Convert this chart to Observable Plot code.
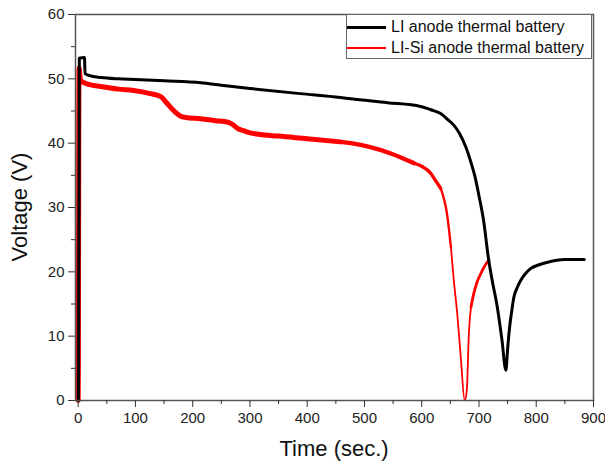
<!DOCTYPE html>
<html>
<head>
<meta charset="utf-8">
<script src="https://cdn.jsdelivr.net/npm/d3@7"></script>
<script src="https://cdn.jsdelivr.net/npm/@observablehq/plot@0.6"></script>
<style>
  html, body { margin: 0; padding: 0; background: white; }
  #wrap { position: relative; width: 605px; height: 461px; overflow: hidden; font-family: Arial, "Liberation Sans", sans-serif; }
  #legend { position: absolute; left: 346px; top: 14px; width: 246px; height: 45px; border: 1px solid #666; background: white; box-sizing: border-box; }
  .row { position: absolute; left: 0; height: 20px; display: flex; align-items: center; font-size: 16px; color: #111; white-space: nowrap; }
  .sw { width: 39px; margin-right: 5px; }
  .title { position: absolute; font-size: 22px; color: #111; white-space: nowrap; line-height: 1; }
</style>
</head>
<body>
<div id="wrap"></div>
<script>
// Series: LI anode thermal battery
const liTime = [0.5, 2, 11, 12, 20, 40, 70, 100, 150, 214, 250, 300, 388, 458, 476, 540, 598, 616, 633, 645, 656, 666, 677, 686, 693, 700, 708, 717, 723, 732, 740, 747, 750, 753, 757, 761, 767, 773, 781, 790, 805, 820, 849, 884];
const liVolt = [0, 53.2, 53.3, 50.8, 50.5, 50.2, 50.0, 49.9, 49.7, 49.4, 49.0, 48.5, 47.7, 47.1, 46.9, 46.3, 45.7, 45.2, 44.6, 43.7, 42.8, 41.5, 39.4, 37.0, 34.8, 31.8, 28.0, 21.8, 18.7, 14.5, 9.5, 4.7, 8.0, 11.0, 13.8, 16.1, 17.6, 18.7, 19.7, 20.5, 21.1, 21.5, 21.9, 21.9];

// Series: LI-Si anode thermal battery
const lisiTime = [0, 0.3, 1, 1.5, 4, 10, 20, 39, 70, 97, 126, 145, 153, 162, 170, 179, 188, 214, 240, 260, 268, 280, 290, 300, 350, 400, 458, 476, 546, 586, 600, 616, 621, 633, 645, 651, 656, 662, 668, 675, 678.6, 682.6, 686, 690, 697, 703, 710, 717.6];
const lisiVolt = [0, 4.5, 41, 51.7, 49.8, 49.4, 49.1, 48.8, 48.4, 48.2, 47.7, 47.2, 46.4, 45.5, 44.8, 44.2, 44.0, 43.8, 43.5, 43.3, 43.0, 42.2, 41.9, 41.6, 41.1, 40.7, 40.2, 40.0, 38.4, 36.9, 36.4, 35.3, 34.6, 33.0, 28.5, 23.8, 18.7, 13.5, 7.0, 0, 1.5, 10.9, 14.5, 16.3, 18.5, 19.7, 20.9, 21.9];

const seriesNames = ["LI anode thermal battery", "LI-Si anode thermal battery"];
const xMajor = [0, 100, 200, 300, 400, 500, 600, 700, 800, 900];
const xMinor = [50, 150, 250, 350, 450, 550, 650, 750, 850];
const yMajor = [0, 10, 20, 30, 40, 50, 60];
const yMinor = [5, 15, 25, 35, 45, 55];
const xTitle = "Time (sec.)";
const yTitle = "Voltage (V)";

const li = liTime.map((t, i) => ({t, v: liVolt[i]}));
const lisi = lisiTime.map((t, i) => ({t, v: lisiVolt[i]}));

// red trace gets thinner as the data become sparse (steep section)
const redPieces = [
  {from: 0, to: 460, w: 5},
  {from: 458, to: 586, w: 4.4},
  {from: 586, to: 633, w: 3.4},
  {from: 633, to: 651, w: 2.4},
  {from: 651, to: 686, w: 1.8},
  {from: 686, to: 720, w: 2.8}
];

const font = 'Arial, "Liberation Sans", sans-serif';
const chart = Plot.plot({
  width: 605,
  height: 461,
  marginLeft: 75,
  marginRight: 12,
  marginTop: 14,
  marginBottom: 61,
  x: {domain: [-4.7, 900]},
  y: {domain: [0, 60]},
  style: {fontFamily: font, fontSize: "15px", color: "#222", background: "white", overflow: "visible"},
  marks: [
    ...redPieces.map(p => Plot.line(lisi.filter(d => d.t >= p.from && d.t <= p.to), {x: "t", y: "v", stroke: "#ff0000", strokeWidth: p.w, strokeLinejoin: "round", strokeLinecap: "round", curve: "monotone-x"})),
    Plot.line(li, {x: "t", y: "v", stroke: "black", strokeWidth: 3, strokeLinejoin: "round", curve: "monotone-x"}),
    Plot.frame({stroke: "#555", strokeWidth: 1.5}),
    Plot.axisX({ticks: xMajor, tickSize: 7, tickPadding: 5, fontSize: 15, label: null, stroke: "#333"}),
    Plot.axisX({ticks: xMinor, tickSize: 4, tickFormat: () => "", label: null, stroke: "#333"}),
    Plot.axisY({ticks: yMajor, tickSize: 7, tickPadding: 4, fontSize: 15, label: null, stroke: "#333"}),
    Plot.axisY({ticks: yMinor, tickSize: 4, tickFormat: () => "", label: null, stroke: "#333"})
  ]
});

const wrap = document.getElementById("wrap");
wrap.appendChild(chart);

// axis titles
const xt = document.createElement("div");
xt.className = "title";
xt.textContent = xTitle;
wrap.appendChild(xt);
xt.style.left = (334 - xt.offsetWidth / 2) + "px";
xt.style.top = (449 - xt.offsetHeight / 2) + "px";

const yt = document.createElement("div");
yt.className = "title";
yt.textContent = yTitle;
wrap.appendChild(yt);
yt.style.left = (20 - yt.offsetWidth / 2) + "px";
yt.style.top = (207 - yt.offsetHeight / 2) + "px";
yt.style.transform = "rotate(-90deg)";

// legend
const legend = document.createElement("div");
legend.id = "legend";
const swatches = [{color: "black", w: 3}, {color: "#ff0000", w: 2}];
seriesNames.forEach((name, i) => {
  const row = document.createElement("div");
  row.className = "row";
  row.style.top = (i === 0 ? 2 : 22.5) + "px";
  const sw = document.createElement("div");
  sw.className = "sw";
  sw.style.height = swatches[i].w + "px";
  sw.style.background = swatches[i].color;
  row.appendChild(sw);
  const tx = document.createElement("span");
  tx.textContent = name;
  row.appendChild(tx);
  legend.appendChild(row);
});
wrap.appendChild(legend);
</script>
</body>
</html>
